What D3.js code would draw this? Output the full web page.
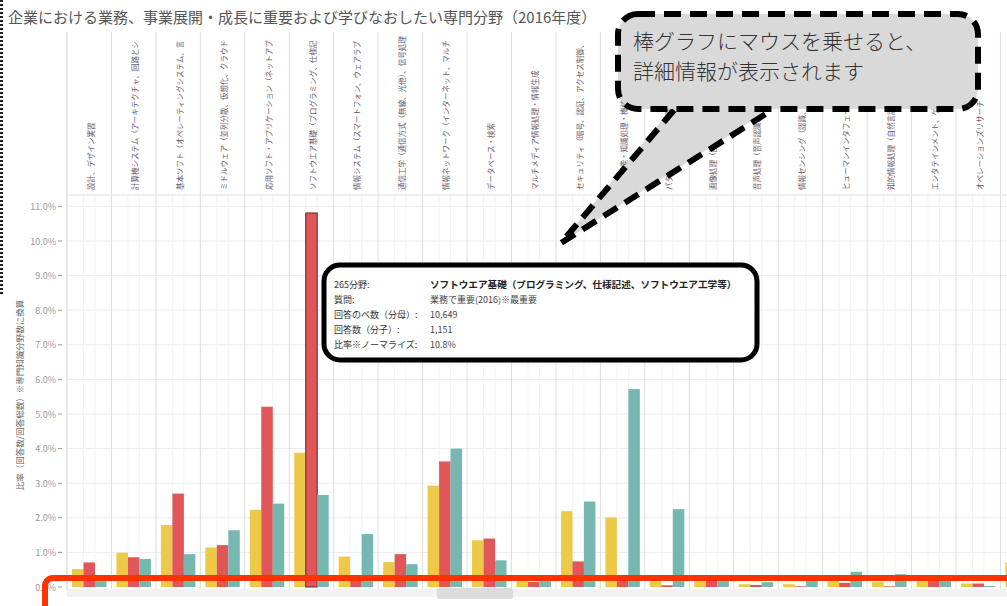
<!DOCTYPE html>
<html><head><meta charset="utf-8">
<script src="https://cdn.jsdelivr.net/npm/d3@7"></script>
<style>
html,body{margin:0;padding:0;background:#fff;}
svg{display:block;font-family:"Noto Sans CJK JP","Noto Sans",sans-serif;}
</style></head>
<body><svg id="c" width="1007" height="606"></svg>
<script>
const title = "企業における業務、事業展開・成長に重要および学びなおしたい専門分野（2016年度）";
const categories = [
 "設計、デザイン実習",
 "計算機システム（アーキテクチャ、回路とシステム、ハードウエア）",
 "基本ソフト（オペレーティングシステム、言語処理系、ミドルウエア）",
 "ミドルウェア（並列分散、仮想化、クラウド基盤）",
 "応用ソフト・アプリケーション（ネットアプリ、業務系）",
 "ソフトウエア基礎（プログラミング、仕様記述、ソフトウエア工学等）",
 "情報システム（スマートフォン、ウェアラブル情報端末）",
 "通信工学（通信方式（無線、光他）、信号処理）",
 "情報ネットワーク（インターネット、マルチメディア通信）",
 "データベース・検索",
 "マルチメディア情報処理・情報生成",
 "セキュリティ（暗号、認証、アクセス制御、マルウエア対策）",
 "人工知能・知識処理・機械学習",
 "パターン認識・画像処理",
 "画像処理（画像認識）",
 "音声処理（音声認識、音声合成）",
 "情報センシング（認識、計測）",
 "ヒューマンインタフェース",
 "知的情報処理（自然言語処理）",
 "エンタテインメント、ゲーム",
 "オペレーションズリサーチ",
 "その他"
];
const seriesNames = ["事業展開・成長に重要(2016)", "業務で重要(2016)※最重要", "学びなおしたい(2016)"];
const seriesColors = ["#EDC948", "#E15759", "#76B7B2"];
const valuesYellow = [0.52,0.99,1.79,1.14,2.23,3.88,0.88,0.72,2.93,1.35,0.30,2.19,2.01,0.33,0.32,0.08,0.08,0.25,0.15,0.28,0.10,0.71];
const valuesRed    = [0.71,0.86,2.70,1.21,5.21,10.81,0.20,0.95,3.63,1.40,0.15,0.74,0.18,0.05,0.32,0.06,0.02,0.12,0.02,0.28,0.10,0.00];
const valuesTeal   = [0.17,0.81,0.95,1.64,2.41,2.66,1.53,0.66,4.00,0.77,0.32,2.47,5.72,2.25,0.35,0.14,0.18,0.44,0.37,0.28,0.03,0.00];
const yTicks = [0,1,2,3,4,5,6,7,8,9,10,11];
const yAxisTitle = "比率（回答数/回答総数）※専門知識分野数に換算";
const calloutLines = ["棒グラフにマウスを乗せると、", "詳細情報が表示されます"];
const tipLabels = ["265分野:", "質問:", "回答のべ数（分母）:", "回答数（分子）:", "比率※ノーマライズ:"];
const tipValues = ["ソフトウエア基礎（プログラミング、仕様記述、ソフトウエア工学等）", "業務で重要(2016)※最重要", "10,649", "1,151", "10.8%"];
const selected = {cat: 5, series: 1};

const svg = d3.select("#c");
const W = 1007, H = 606;
const plotTop = 195, plotBottom = 590, headerTop = 32, left = 67;
const groupW = 44.45;

const x0 = d3.scaleBand().domain(d3.range(categories.length)).range([left, left + groupW*categories.length]).padding(0);
const x1 = d3.scaleBand().domain(d3.range(3)).range([5, groupW-5]).padding(0);
const y = d3.scaleLinear().domain([0, 11]).range([587, 206.4]);

const data = categories.map((c,i)=>({cat:i, vals:[valuesYellow[i], valuesRed[i], valuesTeal[i]]}));

// title
svg.append("text").attr("x",8).attr("y",23).attr("font-size",15).attr("fill","#555").text(title);

// left dotted border
svg.append("line").attr("x1",1.5).attr("x2",1.5).attr("y1",0).attr("y2",295)
  .attr("stroke","#222").attr("stroke-width",3).attr("stroke-dasharray","2,2");

// horizontal gridlines
svg.append("g").selectAll("line").data(yTicks.filter(d=>d>0)).join("line")
  .attr("x1",left).attr("x2",W).attr("y1",d=>y(d)).attr("y2",d=>y(d))
  .attr("stroke","#ececec").attr("stroke-width",1);

// faint inner vertical lines at bar boundaries
const inner = [];
data.forEach(d=>{ [1,2].forEach(k=>inner.push(x0(d.cat)+x1(k))); });
svg.append("g").selectAll("line").data(inner).join("line")
  .attr("x1",d=>d).attr("x2",d=>d).attr("y1",plotTop).attr("y2",plotBottom)
  .attr("stroke","#f3f3f3");

// group separators (header + plot)
svg.append("g").selectAll("line").data(d3.range(categories.length+1)).join("line")
  .attr("x1",d=>left+d*groupW).attr("x2",d=>left+d*groupW)
  .attr("y1",headerTop).attr("y2",plotBottom)
  .attr("stroke",(d)=> d===0 ? "#d0d0d0" : "#dedede").attr("stroke-width",1);

// header bottom line
svg.append("line").attr("x1",left).attr("x2",W).attr("y1",plotTop).attr("y2",plotTop).attr("stroke","#e0e0e0");

// header labels (rotated)
const hdr = svg.append("g");
categories.forEach((c,i)=>{
  const cx = x0(i) + groupW/2 + 1;
  if (cx > W - 8) return; // column scrolled out of view
  const t = hdr.append("text")
    .attr("transform",`translate(${cx},190) rotate(-90)`)
    .attr("dominant-baseline","central")
    .attr("font-size",7.5).attr("fill","#6a5a6a").text(c);
  const maxLen = 190 - headerTop - 4;
  let s = c;
  while (t.node().getComputedTextLength() > maxLen && s.length > 1) {
    s = s.slice(0,-1); t.text(s);
  }
});

// bars
const gBars = svg.append("g");
data.forEach(d=>{
  d.vals.forEach((v,k)=>{
    if (v <= 0) return;
    const r = gBars.append("rect")
      .attr("x", x0(d.cat)+x1(k)).attr("width", x1.bandwidth())
      .attr("y", y(v)).attr("height", y(0)-y(v))
      .attr("fill", seriesColors[k]);
    if (d.cat===selected.cat && k===selected.series) r.attr("stroke","#5a2a2a").attr("stroke-width",1);
  });
});

// y axis ticks
const ya = svg.append("g");
yTicks.forEach(t=>{
  ya.append("text").attr("x",56).attr("y",y(t)).attr("dominant-baseline","central")
    .attr("text-anchor","end").attr("font-size",9).attr("fill","#999").text(t.toFixed(1)+"%");
  ya.append("line").attr("x1",58).attr("x2",62).attr("y1",y(t)).attr("y2",y(t)).attr("stroke","#999");
});
svg.append("text").attr("transform",`translate(19,395) rotate(-90)`).attr("text-anchor","middle")
  .attr("dominant-baseline","central").attr("font-size",8.5).attr("fill","#666").text(yAxisTitle);

// bottom scroll band
svg.append("rect").attr("x",left).attr("y",589).attr("width",W-left).attr("height",8).attr("fill","#f2f2f2");
svg.append("rect").attr("x",437).attr("y",588).attr("width",76).attr("height",11).attr("rx",2).attr("fill","#dcdcdc");

// tooltip box
const tipG = svg.append("g");
tipG.append("rect").attr("x",324).attr("y",265).attr("width",433).attr("height",95).attr("rx",16)
  .attr("fill","#fff").attr("stroke","#000").attr("stroke-width",5);
tipLabels.forEach((l,i)=>{
  const yy = 284 + i*15.2;
  tipG.append("text").attr("x",334).attr("y",yy).attr("dominant-baseline","central")
    .attr("font-size",9).attr("fill","#333").text(l);
  tipG.append("text").attr("x",430).attr("y",yy).attr("dominant-baseline","central")
    .attr("font-size",i===0?9.6:9).attr("font-weight",i===0?"bold":"normal")
    .attr("fill",i===0?"#222":"#444").text(tipValues[i]);
});

// callout tail
const tail = svg.append("g");
tail.append("path").attr("d","M 672 108 L 561 243 L 772 108 Z").attr("fill","#d9d9d9");
tail.append("path").attr("d","M 674 110 L 561 243 L 772 110")
  .attr("fill","none").attr("stroke","#000").attr("stroke-width",6).attr("stroke-dasharray","16,9");

// callout bubble
svg.append("rect").attr("x",618).attr("y",14).attr("width",360).attr("height",95).attr("rx",20)
  .attr("fill","#d9d9d9").attr("stroke","#000").attr("stroke-width",6).attr("stroke-dasharray","17,9");
calloutLines.forEach((l,i)=>{
  svg.append("text").attr("x",633).attr("y",49+i*30).attr("font-size",21).attr("fill","#333")
    .attr("font-family","Noto Sans CJK JP").attr("font-weight",300).text(l);
});

// red highlight rectangle at bottom
svg.append("rect").attr("x",45).attr("y",578).attr("width",1000).attr("height",60).attr("rx",8)
  .attr("fill","none").attr("stroke","#FF3300").attr("stroke-width",6);
</script></body></html>
